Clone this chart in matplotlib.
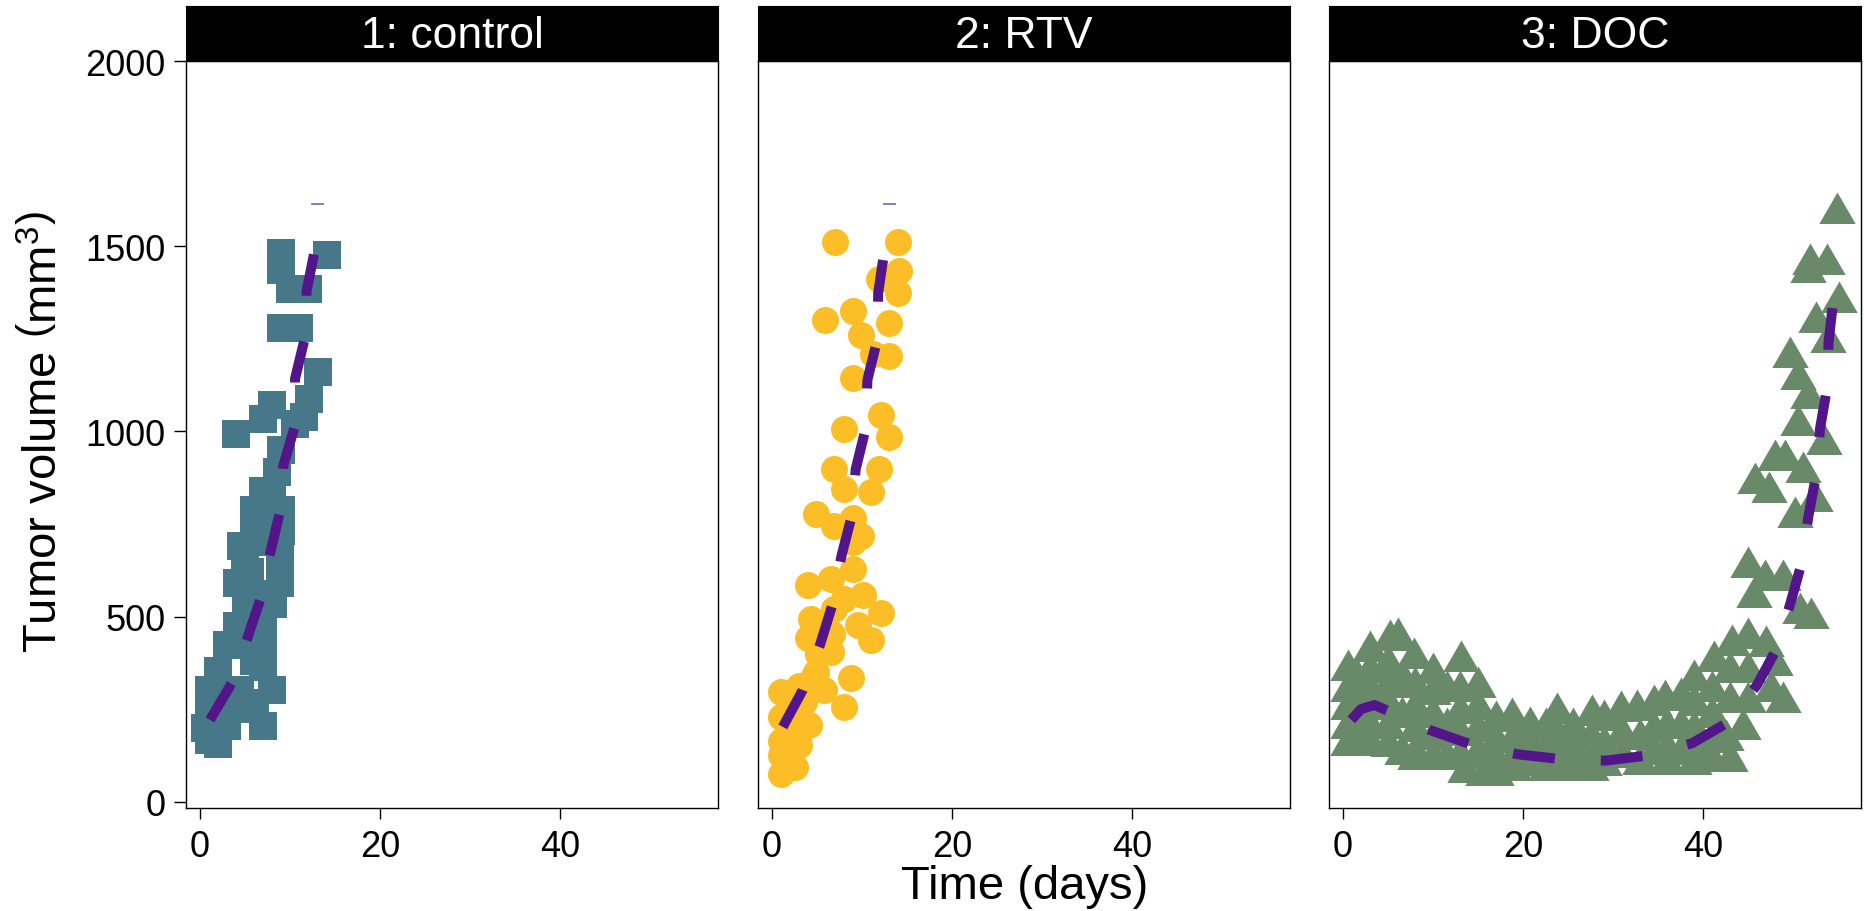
import matplotlib
matplotlib.use("Agg")
import matplotlib.pyplot as plt

plt.rcParams['font.family'] = ['Liberation Sans', 'DejaVu Sans']
plt.rcParams['mathtext.fontset'] = 'custom'
plt.rcParams['mathtext.rm'] = 'Liberation Sans'
plt.rcParams['mathtext.it'] = 'Liberation Sans:italic'

# ---------------- data ----------------
panel_titles = ["1: control", "2: RTV", "3: DOC"]
x_ticks = [0, 20, 40]
y_ticks = [0, 500, 1000, 1500, 2000]

control_day = [1.0, 2.0, 1.0, 3.0, 6.1, 7.0, 1.0, 4.4, 8.0, 2.0, 7.0, 3.0, 7.0, 4.1, 7.0,
               5.1, 8.1, 4.1, 8.9, 5.0, 8.9, 6.0, 9.0, 6.0, 9.0, 7.0, 8.0, 8.5, 9.0, 4.0,
               7.0, 8.0, 10.6, 11.5, 12.1, 13.1, 9.0, 11.0, 10.0, 12.0, 9.0, 9.0, 14.1,
               3.0, 5.0, 2.0, 6.0, 5.0, 6.0, 7.0, 0.6, 5.5, 4.5]
control_vol = [166, 155, 230, 205, 266, 205, 302, 302, 302, 353, 364, 424, 424, 475, 475,
               525, 533, 590, 590, 662, 662, 787, 787, 740, 730, 840, 840, 889, 949, 993,
               1033, 1070, 1021, 1040, 1087, 1161, 1279, 1279, 1385, 1385, 1435, 1481, 1476,
               260, 250, 280, 380, 430, 560, 700, 200, 620, 690]

rtv_day = [7.0, 14.0, 14.1, 11.9, 14.0, 5.9, 9.0, 13.0, 9.9, 13.0, 11.2, 9.0, 12.1, 13.0,
           8.0, 6.9, 11.9, 8.0, 11.0, 4.9, 6.9, 9.0, 9.9, 9.0, 4.0, 6.6, 10.1, 12.1, 6.9,
           4.0, 6.7, 11.0, 6.6, 4.9, 8.8, 8.0, 1.0, 3.0, 4.7, 1.0, 3.0, 4.1, 1.0, 3.0, 1.0,
           2.5, 1.0, 2.1, 5.8, 5.1, 9.5, 8.0, 9.0, 4.3, 2.0, 3.5]
rtv_vol = [1511, 1511, 1434, 1412, 1374, 1300, 1324, 1292, 1259, 1204, 1210, 1144, 1045, 985,
           1007, 897, 897, 843, 837, 777, 744, 766, 717, 629, 585, 602, 558, 509, 520,
           443, 454, 437, 405, 350, 334, 257, 295, 312, 339, 229, 229, 208, 164, 153, 76,
           93, 125, 180, 301, 399, 476, 547, 700, 492, 260, 270]

doc_day = [0.6, 0.5, 0.5, 0.5, 0.5, 1.5, 1.5, 1.5, 1.5,
           3.0, 3.0, 3.0, 3.0, 3.0, 3.0, 5.2, 5.0, 5.0, 5.0, 5.0, 5.0,
           6.1, 6.5, 6.5, 6.5, 7.9, 8.0, 8.0, 8.0, 8.0, 8.0,
           10.0, 10.0, 10.0, 10.0, 10.0, 11.5, 11.5, 11.5,
           13.1, 13.0, 13.0, 13.0, 13.0, 13.5, 15.0, 15.0, 15.0, 15.0, 15.5,
           17.0, 17.0, 17.0, 17.0, 18.8, 19.0, 19.0, 19.0, 20.8, 21.0, 21.0,
           22.5, 22.5, 22.5, 23.8, 24.0, 24.0, 25.5, 25.5, 25.5,
           27.7, 27.5, 27.5, 27.5, 29.0, 29.0, 29.0, 30.9, 31.0, 31.0,
           32.7, 33.0, 33.0, 34.5, 34.5, 34.5, 35.8, 36.0, 36.0, 36.0,
           37.5, 37.5, 37.5, 39.0, 39.0, 39.0, 39.0, 39.0,
           41.2, 41.0, 41.0, 41.0, 41.0, 43.2, 43.0, 43.0, 42.5, 43.0,
           45.0, 44.4, 45.0, 45.0, 47.0, 48.0, 48.9, 47.5,
           45.7, 50.8, 52.0, 45.0, 46.9, 48.9, 50.2, 52.4, 45.8, 47.3, 51.1, 48.0, 49.1,
           53.4, 50.6, 51.7, 50.5, 49.7, 53.9, 52.6, 55.1, 51.7, 51.9, 53.8, 54.9]
doc_vol = [356, 300, 250, 200, 152, 330, 280, 220, 165,
           406, 350, 300, 250, 200, 152, 437, 370, 310, 260, 200, 150,
           442, 330, 230, 130, 388, 310, 250, 190, 130, 116,
           347, 290, 230, 170, 116, 300, 200, 116,
           379, 300, 240, 180, 120, 80, 310, 250, 190, 130, 71,
           217, 160, 110, 71, 226, 170, 120, 85, 203, 150, 100,
           200, 140, 85, 239, 170, 110, 200, 140, 85,
           235, 170, 110, 85, 220, 150, 100, 244, 180, 120,
           248, 170, 103, 260, 190, 130, 275, 200, 140, 103,
           280, 200, 130, 329, 260, 190, 130, 103,
           379, 300, 230, 160, 111, 424, 350, 270, 166, 111,
           442, 197, 350, 270, 420, 368, 269, 300,
           552, 509, 495, 635, 599, 599, 768, 813, 860, 836, 891, 923, 923,
           966, 1017, 1089, 1141, 1202, 1240, 1296, 1350, 1429, 1453, 1452, 1589]

# fitted (dashed) curves
control_fit_day = [1.11, 3.52, 5.19, 6.67, 7.78, 8.89, 9.26, 10.56, 10.56, 11.67, 11.85, 12.78]
control_fit_vol = [221, 320, 437, 544, 670, 783, 908, 1016, 1142, 1254, 1380, 1493]
rtv_fit_day = [1.2, 3.4, 5.3, 6.7, 7.7, 8.8, 9.3, 10.4, 10.6, 11.7, 11.8, 12.5]
rtv_fit_vol = [202, 301, 421, 531, 662, 766, 898, 1007, 1139, 1248, 1374, 1489]
doc_fit_day = [0.92, 2.0, 3.5, 5.2, 9.6, 14.4, 19.4, 24.2, 29.2, 33.9, 38.8, 42.9,
               46.0, 48.2, 49.7, 51.0, 51.7, 52.6, 53.0, 53.8, 53.95, 54.5]
doc_fit_vol = [221, 250, 261, 243, 194, 153, 128, 115, 111, 125, 158, 216,
               315, 414, 535, 648, 769, 886, 1007, 1120, 1241, 1358]

# small horizontal marks at the top of panels 1 and 2
mark_day = [12.4, 13.7]
mark_vol = [1615, 1615]

# ---------------- layout ----------------
W, H = 1864, 912
fig = plt.figure(figsize=(W / 100, H / 100), dpi=100)

lefts = [186, 758, 1329]
pw = 532
top_px, bot_px = 62, 809
strip_h = 55

line_color = '#52168A'
lw_px = 10
lw = lw_px * 0.72
dash = (0, (42 / lw_px, 46 / lw_px))

tri = [(0, 1), (-0.866, -0.5), (0.866, -0.5)]
series = [
    (control_day, control_vol, 's', 28 * 0.72, '#47788A', control_fit_day, control_fit_vol, True),
    (rtv_day, rtv_vol, 'o', 27 * 0.72, '#FBBE26', rtv_fit_day, rtv_fit_vol, True),
    (doc_day, doc_vol, tri, 42 * 0.72, '#688A68', doc_fit_day, doc_fit_vol, False),
]

for i, (xd, yd, mk, ms, col, fx, fy, mark) in enumerate(series):
    l = lefts[i]
    ax = fig.add_axes([l / W, 1 - bot_px / H, pw / W, (bot_px - top_px) / H])
    ax.plot(xd, yd, linestyle='none', marker=mk, markersize=ms, color=col,
            markeredgewidth=0, zorder=2)
    ax.plot(fx, fy, color=line_color, lw=lw, linestyle=dash, dash_capstyle='butt',
            solid_capstyle='butt', zorder=3)
    if mark:
        ax.plot(mark_day, mark_vol, color='#7474B4', lw=1.3, zorder=3)
    ax.set_xlim(-1.556, -1.556 + pw / 9.0)
    ax.set_ylim(-17, 2000)
    ax.set_xticks(x_ticks)
    ax.set_yticks(y_ticks)
    ax.tick_params(axis='x', length=8, width=1.0, pad=7, labelsize=26, color='black')
    ax.tick_params(axis='y', length=8.5, width=1.0, pad=6.5, labelsize=26, color='black')
    if i > 0:
        ax.tick_params(axis='y', left=False, labelleft=False)
    for s in ax.spines.values():
        s.set_linewidth(1.0)
        s.set_color('black')
    # strip
    sax = fig.add_axes([l / W, 1 - top_px / H, pw / W, strip_h / H])
    sax.set_facecolor('black')
    sax.set_xticks([])
    sax.set_yticks([])
    for s in sax.spines.values():
        s.set_color('black')
    sax.text(0.5, 0.47, panel_titles[i], color='white', fontsize=32,
             ha='center', va='center', transform=sax.transAxes)

fig.text(44 / W, 1 - 432 / H, r'Tumor volume $\left(\mathrm{mm}^{3}\right)$',
         rotation=90, ha='center', va='center', fontsize=34)
fig.text(1024.5 / W, 1 - 887 / H, 'Time (days)', ha='center', va='center', fontsize=34)

fig.savefig('out.png', dpi=100, facecolor='white')
